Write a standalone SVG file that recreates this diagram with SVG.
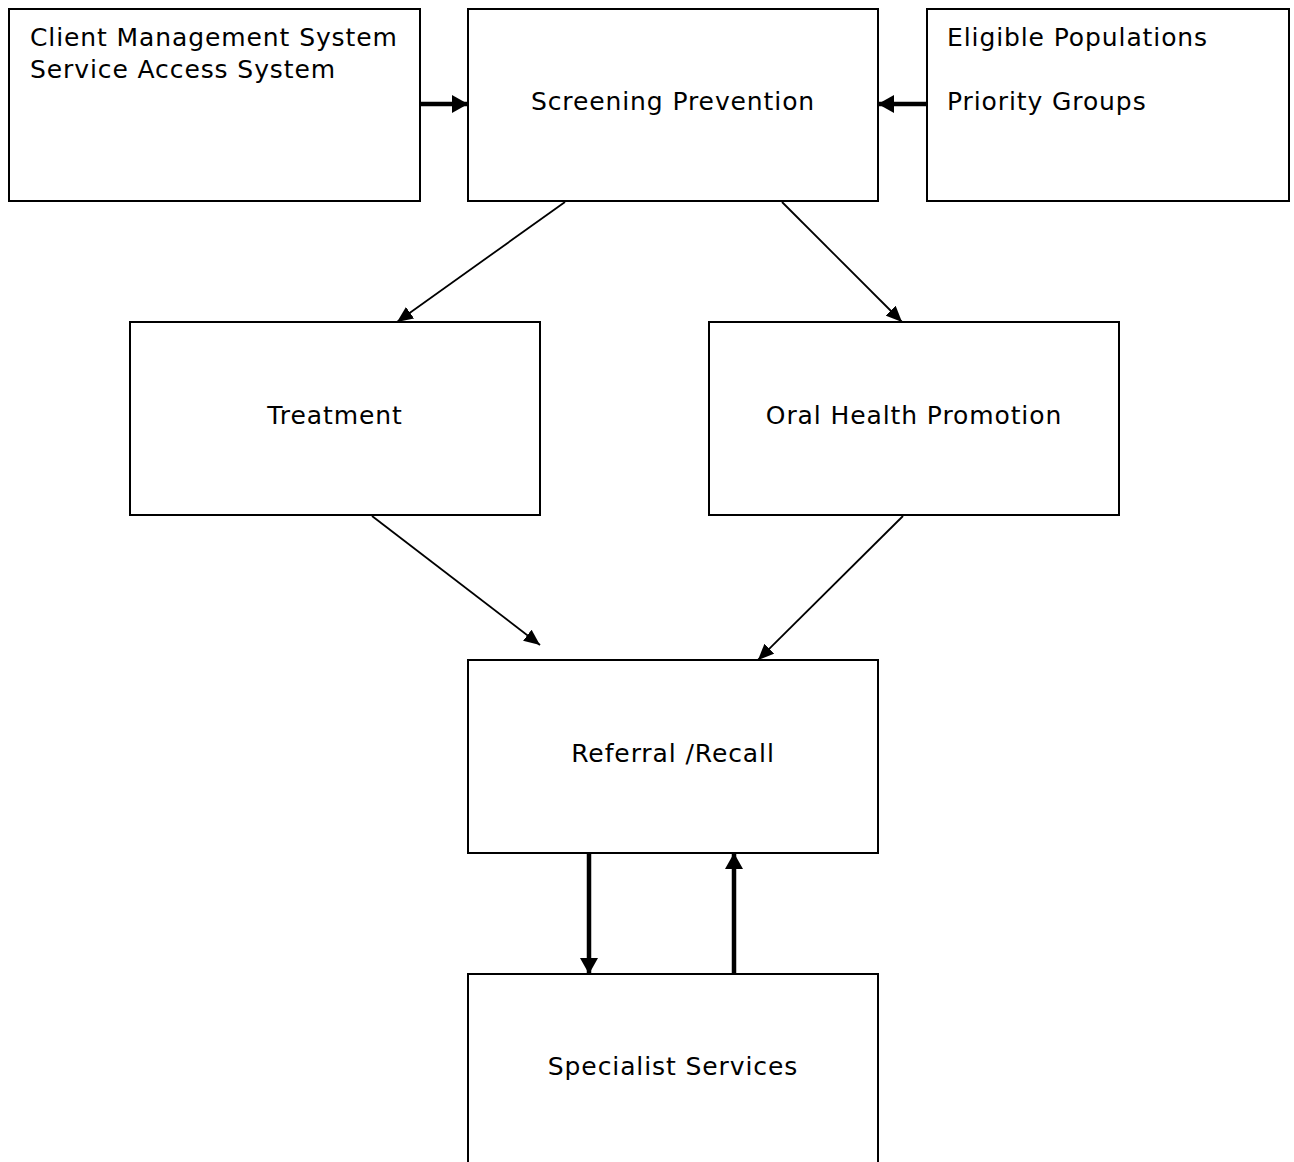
<svg xmlns="http://www.w3.org/2000/svg" width="1294" height="1162" viewBox="0 0 1294 1162">
<style>
.box{fill:#fff;stroke:#000;stroke-width:2}
.t{font-family:"DejaVu Sans",Verdana,sans-serif;font-size:25px;letter-spacing:0.9px;fill:#000}
.c{text-anchor:middle}
.thin{stroke:#000;stroke-width:1.8;fill:none}
.thick{stroke:#000;stroke-width:4.5;fill:none}
</style>
<defs>
<marker id="ah" markerUnits="userSpaceOnUse" markerWidth="16" markerHeight="14" refX="16" refY="7" orient="auto">
<path d="M0,0 L16,7 L0,14 Z" fill="#000"/>
</marker>
<marker id="ahb" markerUnits="userSpaceOnUse" markerWidth="16" markerHeight="18" refX="16" refY="9" orient="auto">
<path d="M0,0 L16,9 L0,18 Z" fill="#000"/>
</marker>
</defs>
<rect width="1294" height="1162" fill="#fff"/>
<g id="n-client">
<rect class="box" x="9" y="9" width="411" height="192"/>
<text class="t" x="30" y="46">Client Management System</text>
<text class="t" x="30" y="78">Service Access System</text>
</g>
<g id="n-screening">
<rect class="box" x="468" y="9" width="410" height="192"/>
<text class="t c" x="673" y="110">Screening Prevention</text>
</g>
<g id="n-eligible">
<rect class="box" x="927" y="9" width="362" height="192"/>
<text class="t" x="947" y="46">Eligible Populations</text>
<text class="t" x="947" y="110">Priority Groups</text>
</g>
<g id="n-treatment">
<rect class="box" x="130" y="322" width="410" height="193"/>
<text class="t c" x="335" y="424">Treatment</text>
</g>
<g id="n-oral">
<rect class="box" x="709" y="322" width="410" height="193"/>
<text class="t c" x="914" y="424">Oral Health Promotion</text>
</g>
<g id="n-referral">
<rect class="box" x="468" y="660" width="410" height="193"/>
<text class="t c" x="673" y="762">Referral /Recall</text>
</g>
<g id="n-specialist">
<rect class="box" x="468" y="974" width="410" height="200"/>
<text class="t c" x="673" y="1075">Specialist Services</text>
</g>
<g id="connectors">
<line class="thick" x1="420" y1="104" x2="468" y2="104" marker-end="url(#ahb)"/>
<line class="thick" x1="927" y1="104" x2="878" y2="104" marker-end="url(#ahb)"/>
<line class="thin" x1="565" y1="202" x2="397" y2="322" marker-end="url(#ah)"/>
<line class="thin" x1="782" y1="202" x2="902" y2="322" marker-end="url(#ah)"/>
<line class="thin" x1="372" y1="516" x2="540" y2="645" marker-end="url(#ah)"/>
<line class="thin" x1="903" y1="516" x2="758" y2="660" marker-end="url(#ah)"/>
<line class="thick" x1="589" y1="853" x2="589" y2="974" marker-end="url(#ahb)"/>
<line class="thick" x1="734" y1="974" x2="734" y2="853" marker-end="url(#ahb)"/>
</g>
</svg>
